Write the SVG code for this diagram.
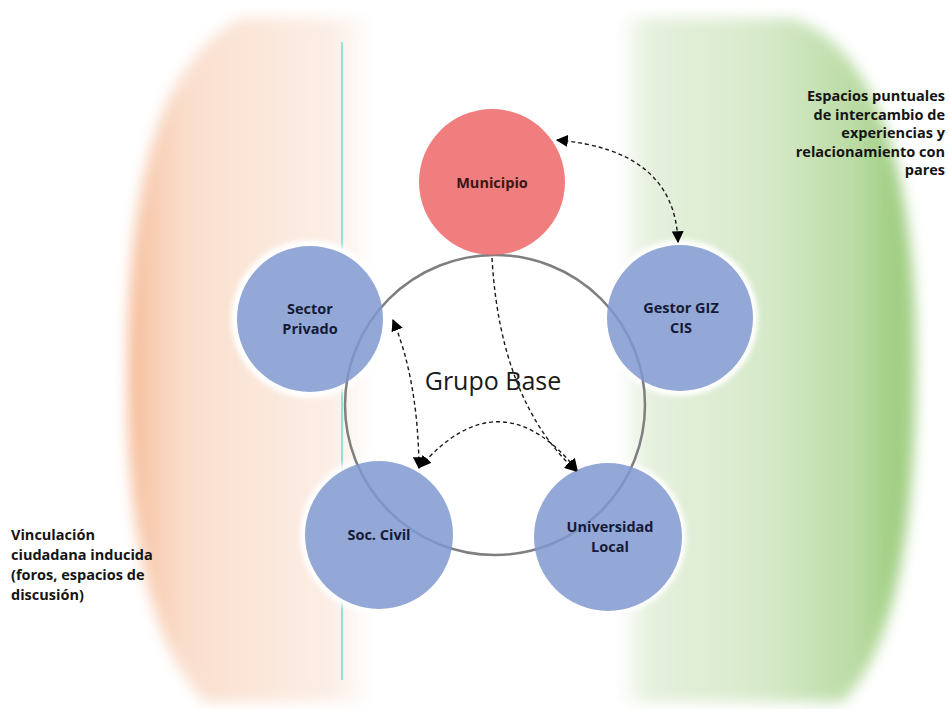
<svg xmlns="http://www.w3.org/2000/svg" width="949" height="709" viewBox="0 0 949 709">
<defs>
<linearGradient id="gOr" x1="128" y1="0" x2="372" y2="0" gradientUnits="userSpaceOnUse">
<stop offset="0" stop-color="#F5B48E"/>
<stop offset="0.08" stop-color="#F8CBAF"/>
<stop offset="0.25" stop-color="#FADFCE"/>
<stop offset="0.8" stop-color="#FCEDE4"/>
<stop offset="0.92" stop-color="#FDF5F0"/>
<stop offset="1" stop-color="#FFFFFF"/>
</linearGradient>
<linearGradient id="gGr" x1="618" y1="0" x2="918" y2="0" gradientUnits="userSpaceOnUse">
<stop offset="0" stop-color="#FFFFFF"/>
<stop offset="0.1" stop-color="#E6F1DE"/>
<stop offset="0.5" stop-color="#D6E9C9"/>
<stop offset="0.8" stop-color="#B9DBA2"/>
<stop offset="0.92" stop-color="#A0CE82"/>
<stop offset="1" stop-color="#A6D18A"/>
</linearGradient>
<filter id="blur" x="-10%" y="-10%" width="120%" height="120%"><feGaussianBlur stdDeviation="7"/></filter>
<filter id="halo" x="-20%" y="-20%" width="140%" height="140%"><feGaussianBlur stdDeviation="2.5"/></filter>
<marker id="ah" viewBox="0 0 10 10" refX="9" refY="5" markerWidth="12" markerHeight="12" markerUnits="userSpaceOnUse" orient="auto-start-reverse">
<path d="M0,0 L10,5 L0,10 Z" fill="#000"/>
</marker>
<style>
.node{stroke:none}
.blue{fill:#8099CF;fill-opacity:0.85}
.red{fill:#EE7070;fill-opacity:0.9}
.halo{fill:#FFFFFF;filter:url(#halo)}
.lbl{font-family:"Open Sans","Liberation Sans",sans-serif;font-weight:bold;font-size:14.5px;fill:#141A38;text-anchor:middle}
.side{font-family:"Open Sans","Liberation Sans",sans-serif;font-weight:bold;font-size:14.5px;fill:#141414}
.conn{fill:none;stroke:#1A1A1A;stroke-width:1.4;stroke-dasharray:4 3;marker-start:url(#ah);marker-end:url(#ah)}
</style>
</defs>
<rect width="949" height="709" fill="#FFFFFF"/>
<g id="background">
<path d="M240 18 L372 18 L372 702 L205 702 C155 650 128 550 128 380 C128 200 150 70 240 18 Z" fill="url(#gOr)" filter="url(#blur)"/>
<path d="M618 18 L790 18 C870 40 916 160 916 360 C916 560 885 660 842 702 L618 702 Z" fill="url(#gGr)" filter="url(#blur)"/>
<line x1="342" y1="42" x2="342" y2="680" stroke="#7ED6CF" stroke-width="1.5"/>
</g>
<g id="halos">
<circle class="halo" cx="492" cy="182" r="78"/>
<circle class="halo" cx="310" cy="319" r="79"/>
<circle class="halo" cx="680" cy="318" r="78"/>
<circle class="halo" cx="379" cy="535" r="79"/>
<circle class="halo" cx="608" cy="537" r="78"/>
</g>
<circle id="grupo-ring" cx="495" cy="405" r="150" fill="none" stroke="#7F7F7F" stroke-width="2.5"/>
<g id="municipio">
<circle class="node red" cx="492" cy="182" r="73"/>
<text class="lbl" x="492" y="188" style="fill:#3A1616">Municipio</text>
</g>
<g id="sector-privado">
<circle class="node blue" cx="310" cy="319" r="73"/>
<text class="lbl" x="310" y="314">Sector</text>
<text class="lbl" x="310" y="334">Privado</text>
</g>
<g id="gestor-giz">
<circle class="node blue" cx="680" cy="318" r="73"/>
<text class="lbl" x="681" y="313">Gestor GIZ</text>
<text class="lbl" x="681" y="333">CIS</text>
</g>
<g id="soc-civil">
<circle class="node blue" cx="379" cy="535" r="74"/>
<text class="lbl" x="379" y="540">Soc. Civil</text>
</g>
<g id="universidad">
<circle class="node blue" cx="608" cy="537" r="74"/>
<text class="lbl" x="610" y="532">Universidad</text>
<text class="lbl" x="610" y="552">Local</text>
</g>
<text id="grupo-base" x="493" y="390" font-family="'Open Sans','Liberation Sans',sans-serif" font-size="25" fill="#1A1A1A" text-anchor="middle">Grupo Base</text>
<g id="connectors">
<path class="conn" d="M557 140 Q675 150 678 242"/>
<path class="conn" d="M393 320 Q418 380 419 468"/>
<path class="conn" d="M492 258 Q500 400 576 471" style="marker-start:none"/>
<path class="conn" d="M420 467 Q500 375 577 470"/>
</g>
<g id="side-labels">
<text class="side" text-anchor="end" x="945" y="101">Espacios puntuales</text>
<text class="side" text-anchor="end" x="945" y="120">de intercambio de</text>
<text class="side" text-anchor="end" x="945" y="138">experiencias y</text>
<text class="side" text-anchor="end" x="945" y="157">relacionamiento con</text>
<text class="side" text-anchor="end" x="945" y="175">pares</text>
<text class="side" x="11" y="540">Vinculación</text>
<text class="side" x="11" y="560">ciudadana inducida</text>
<text class="side" x="11" y="580">(foros, espacios de</text>
<text class="side" x="11" y="600">discusión)</text>
</g>
</svg>
